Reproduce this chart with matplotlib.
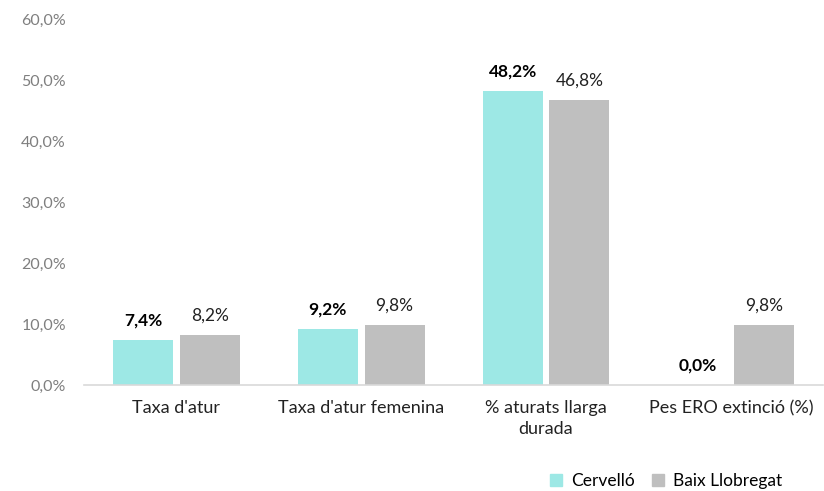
import matplotlib
matplotlib.use("Agg")
import matplotlib.pyplot as plt
from matplotlib.patches import Patch
import numpy as np

categories = ["Taxa d'atur", "Taxa d'atur femenina", "% aturats llarga\ndurada", "Pes ERO extinció (%)"]
cervello = [7.4, 9.2, 48.2, 0.0]
baix = [8.2, 9.8, 46.8, 9.8]
yticks = [0, 10, 20, 30, 40, 50, 60]

plt.rcParams['font.family'] = ['Lato', 'DejaVu Sans']

fig = plt.figure(figsize=(8.24, 4.91), dpi=100)
ax = fig.add_axes([0.102, 0.216, 0.897, 0.745])

x = np.arange(len(categories))
w = 0.325
gap = 0.018
c1 = "#9de8e5"
c2 = "#bfbfbf"
b1 = ax.bar(x - w/2 - gap, cervello, w, color=c1)
b2 = ax.bar(x + w/2 + gap, baix, w, color=c2)

def fmt(v):
    return f"{v:.1f}".replace(".", ",") + "%"

for xi, v in zip(x - w/2 - gap, cervello):
    ax.annotate(fmt(v), (xi, v), xytext=(0, 8), textcoords="offset points",
                ha="center", va="bottom", fontsize=12.5, fontweight="bold", color="black")
for xi, v in zip(x + w/2 + gap, baix):
    ax.annotate(fmt(v), (xi, v), xytext=(0, 8), textcoords="offset points",
                ha="center", va="bottom", fontsize=12.5, color="#222222")

ax.set_xlim(-0.5, len(categories) - 0.5)
ax.set_ylim(0, 60)
ax.set_yticks(yticks)
ax.set_yticklabels([fmt(v) for v in yticks], color="#7f7f7f", fontsize=11.5)
ax.set_xticks(x)
ax.set_xticklabels(categories, fontsize=13, color="#222222", linespacing=1.35)
ax.tick_params(axis="both", length=0)
ax.tick_params(axis="x", pad=11)
ax.tick_params(axis="y", pad=13)
for s in ["top", "right", "left"]:
    ax.spines[s].set_visible(False)
ax.spines["bottom"].set_color("#d9d9d9")
ax.spines["bottom"].set_linewidth(1.2)

handles = [Patch(color=c1, label="Cervelló"), Patch(color=c2, label="Baix Llobregat")]
fig.legend(handles=handles, loc="center", bbox_to_anchor=(0.808, 0.02), ncol=2,
           frameon=False, fontsize=12.5, handlelength=0.7, handleheight=0.7,
           columnspacing=1.0, handletextpad=0.5)

fig.savefig("out.png", dpi=100)
